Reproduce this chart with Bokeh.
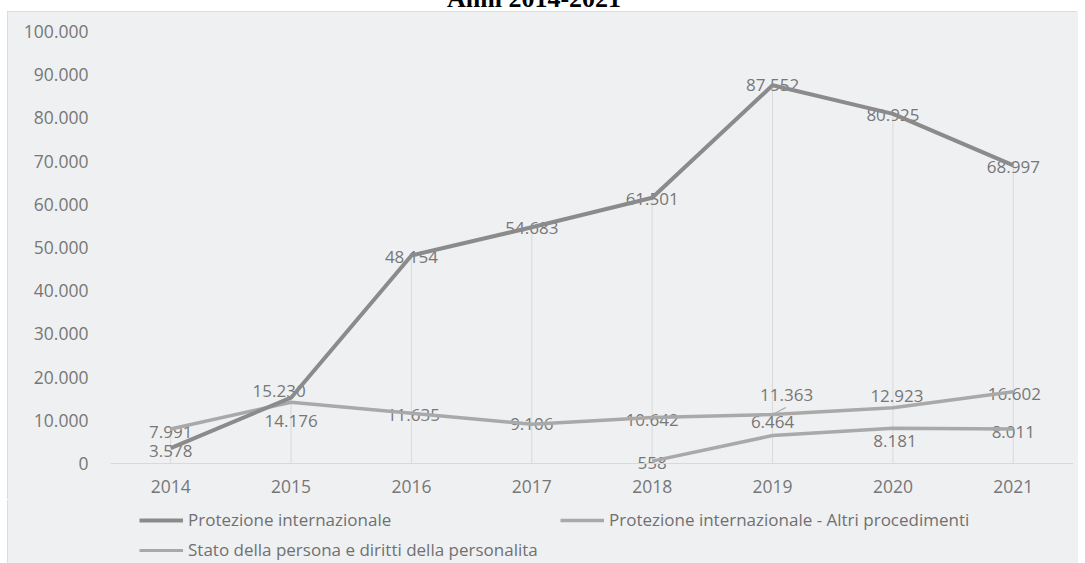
import numpy as np
from bokeh.plotting import figure
from bokeh.models import FixedTicker, Legend, LegendItem, Div, Range1d, ColumnDataSource, Span
from bokeh.layouts import column
from bokeh.embed import file_html
from bokeh.resources import INLINE
from bokeh.core.properties import value

# ---------------- data ----------------
title_text = "Anni 2014-2021"
years = [2014, 2015, 2016, 2017, 2018, 2019, 2020, 2021]
prot_int = [3578, 15230, 48154, 54683, 61501, 87552, 80925, 68997]
altri_years = [2018, 2019, 2020, 2021]
prot_altri = [558, 6464, 8181, 8011]
stato = [7991, 14176, 11635, 9106, 10642, 11363, 12923, 16602]
series_names = [
    "Protezione internazionale",
    "Protezione internazionale - Altri procedimenti",
    "Stato della persona e diritti della personalita",
]
y_ticks = [0, 10000, 20000, 30000, 40000, 50000, 60000, 70000, 80000, 90000, 100000]

# label placement (pixel offsets, layout only)
pi_dx = [0, -12, 0, 0, 0, 0, 0, 0]
pi_dy = [3, -7, 2, 1, 1, 0, 1, 2]
st_dx = [0, 0, 2, 0, 0, 14, 4, 1]
st_dy = [3, 19, 2, 0, 2, -19, -12, 2]
al_dx = [0, 0, 2, 0]
al_dy = [2, -14, 13, 3]


def it_fmt(v):
    return f"{v:,}".replace(",", ".")


BG = "#eff0f2"
TXT = "#777777"
DARK = "#8b8b8b"
LIGHT = "#a9a9a9"
FONT = "Open Sans"

p = figure(
    width=1070, height=488, frame_width=963, frame_height=439,
    x_range=Range1d(years[0] - 0.5, years[-1] + 0.5),
    y_range=Range1d(-1620, y_ticks[-1]),
    output_backend="svg", toolbar_location=None,
    min_border_left=102, min_border_right=5, min_border_top=19, min_border_bottom=30,
)
p.margin = (0, 0, 0, 8)
p.styles = {"background-color": BG, "box-shadow": "-1px -1px 0 #dcdcdc"}
p.background_fill_color = BG
p.border_fill_color = BG
p.outline_line_color = None
p.xgrid.grid_line_color = None
p.ygrid.grid_line_color = None

# baseline at zero
p.add_layout(Span(location=0, dimension="width", line_color="#d9d9d9", line_width=1))

# drop lines
drop_top = [max(a, b) for a, b in zip(prot_int, stato)]
p.segment(x0=years, y0=[0] * len(years), x1=years, y1=drop_top,
          line_color="#d9d9d9", line_width=1)

# data labels
src_pi = ColumnDataSource(dict(x=years, y=prot_int, t=[it_fmt(v) for v in prot_int], dx=pi_dx, dy=pi_dy))
src_st = ColumnDataSource(dict(x=years, y=stato, t=[it_fmt(v) for v in stato], dx=st_dx, dy=st_dy))
src_al = ColumnDataSource(dict(x=altri_years, y=prot_altri, t=[it_fmt(v) for v in prot_altri], dx=al_dx, dy=al_dy))
for s in (src_pi, src_st, src_al):
    p.text(x="x", y="y", text="t", x_offset="dx", y_offset="dy", source=s,
           text_font=value(FONT), text_font_size="17px", text_color=TXT,
           text_align="center", text_baseline="middle")

# leader line for the 2019 label of the third series
p.segment(x0=[years[5]], y0=[stato[5]], x1=[years[5] + 0.11], y1=[stato[5] + 1600],
          line_color=LIGHT, line_width=1.2)

# lines
p.line(years, stato, line_color=LIGHT, line_width=3.5, line_join="round")
p.line(altri_years, prot_altri, line_color=LIGHT, line_width=3.5, line_join="round")
p.line(years, prot_int, line_color=DARK, line_width=4, line_join="round")

# axes
xa = p.xaxis[0]
xa.ticker = FixedTicker(ticks=years)
xa.major_label_overrides = {y: str(y) for y in years}
xa.axis_line_color = None
xa.major_tick_line_color = None
xa.minor_tick_line_color = None
xa.major_label_standoff = 3
xa.major_label_text_font = FONT
xa.major_label_text_font_size = "17.5px"
xa.major_label_text_color = TXT

ya = p.yaxis[0]
ya.ticker = FixedTicker(ticks=y_ticks)
ya.major_label_overrides = {t: it_fmt(t) for t in y_ticks}
ya.axis_line_color = None
ya.major_tick_line_color = None
ya.minor_tick_line_color = None
ya.major_label_standoff = 16
ya.major_label_text_font = FONT
ya.major_label_text_font_size = "17.5px"
ya.major_label_text_color = TXT

# ---------------- legend strip ----------------
lf = figure(width=1070, height=63, x_axis_type=None, y_axis_type=None,
            x_range=Range1d(0, 1), y_range=Range1d(0, 1),
            output_backend="svg", toolbar_location=None,
            min_border_left=0, min_border_right=0, min_border_top=0, min_border_bottom=0)
lf.margin = (0, 0, 0, 8)
lf.styles = {"background-color": BG, "box-shadow": "-1px 0 0 #dcdcdc"}
lf.background_fill_color = BG
lf.border_fill_color = BG
lf.outline_line_color = None
lf.grid.grid_line_color = None
nan = np.array([np.nan])
g_pi = lf.line(x=nan, y=nan, line_color=DARK, line_width=4)
g_al = lf.line(x=nan, y=nan, line_color=LIGHT, line_width=3.5)
g_st = lf.line(x=nan, y=nan, line_color=LIGHT, line_width=3)

common = dict(
    background_fill_alpha=0, border_line_color=None,
    label_text_font=FONT, label_text_font_size="17px", label_text_color="#707070",
    glyph_width=44, glyph_height=20, label_height=20, label_standoff=5, padding=0,
    margin=0,
)
leg1 = Legend(items=[LegendItem(label=series_names[0], renderers=[g_pi]),
                     LegendItem(label=series_names[1], renderers=[g_al])],
              orientation="horizontal", label_width=360, spacing=12,
              location=(29, 32), **common)
leg2 = Legend(items=[LegendItem(label=series_names[2], renderers=[g_st])],
              location=(29, 2), **common)
lf.add_layout(leg1)
lf.add_layout(leg2)

title_div = Div(
    text=('<div style="position:relative;top:-14px;font-family:\'Liberation Serif\';font-weight:bold;'
          'font-size:26px;line-height:26px;padding-left:447px;color:#000;white-space:nowrap">'
          + title_text + '</div>'),
    width=1085, height=12, styles={"overflow": "hidden"},
)
title_div.margin = 0

layout = column(title_div, p, lf, spacing=0)
open("out.html", "w").write(file_html(layout, INLINE))
